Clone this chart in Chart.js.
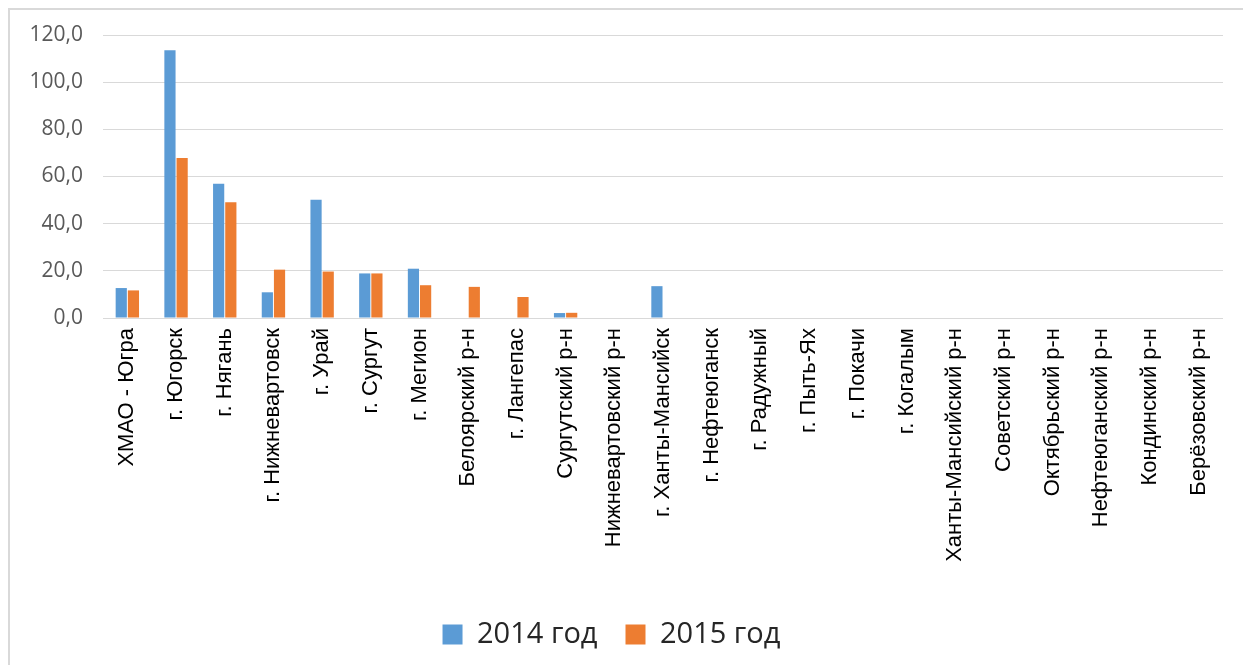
<!DOCTYPE html>
<html>
<head>
<meta charset="utf-8">
<script src="https://cdn.jsdelivr.net/npm/chart.js@4"></script>
<style>
  html, body { margin: 0; padding: 0; background: #fff; overflow: hidden; }
  #frame { position: absolute; left: 8px; top: 8px; width: 1260px; height: 680px; border: 2px solid #d9d9d9; }
  #wrap { position: absolute; left: 0; top: 0; width: 1243px; height: 665px; }
</style>
</head>
<body>
<div id="frame"></div>
<div id="wrap"><canvas id="bar-chart-grouped"></canvas></div>
<script>
var places = ["ХМАО - Югра", "г. Югорск", "г. Нягань", "г. Нижневартовск", "г. Урай", "г. Сургут",
    "г. Мегион", "Белоярский р-н", "г. Лангепас", "Сургутский р-н", "Нижневартовский р-н",
    "г. Ханты-Мансийск", "г. Нефтеюганск", "г. Радужный", "г. Пыть-Ях", "г. Покачи", "г. Когалым",
    "Ханты-Мансийский р-н", "Советский р-н", "Октябрьский р-н", "Нефтеюганский р-н",
    "Кондинский р-н", "Берёзовский р-н"];
var y2014 = [12.7, 113.5, 56.9, 10.9, 50.1, 18.9, 20.9, 0, 0, 2.1, 0, 13.5, 0, 0, 0, 0, 0, 0, 0, 0, 0, 0, 0];
var y2015 = [11.7, 67.8, 49.1, 20.5, 19.7, 18.9, 13.9, 13.2, 8.9, 2.2, 0, 0, 0, 0, 0, 0, 0, 0, 0, 0, 0, 0, 0];
var seriesNames = ["2014 год", "2015 год"];
var color = ["#5b9bd5", "#ed7d31"];

new Chart(document.getElementById("bar-chart-grouped"), {
    type: 'bar',
    data: {
        labels: places,
        datasets: [
            { label: seriesNames[0], backgroundColor: color[0], data: y2014,
              categoryPercentage: 0.5, barPercentage: 0.92 },
            { label: seriesNames[1], backgroundColor: color[1], data: y2015,
              categoryPercentage: 0.5, barPercentage: 0.92 }
        ]
    },
    options: {
        responsive: true,
        maintainAspectRatio: false,
        animation: false,
        layout: { padding: { left: 0, right: 20, top: 35, bottom: 6 } },
        plugins: {
            tooltip: { enabled: false },
            legend: {
                position: 'bottom',
                labels: {
                    font: { family: "Open Sans", size: 29 },
                    color: '#262626',
                    boxWidth: 20, boxHeight: 20, padding: 28
                }
            }
        },
        scales: {
            x: {
                grid: { display: false, drawTicks: false },
                border: { display: false },
                ticks: {
                    color: '#000',
                    font: { family: "Liberation Sans", size: 22 },
                    minRotation: 90, maxRotation: 90, autoSkip: false, padding: 10
                },
                afterFit: function (s) { s.height = 274; }
            },
            y: {
                min: 0, max: 120,
                ticks: {
                    stepSize: 20,
                    color: '#595959',
                    font: { family: "Open Sans", size: 21 },
                    padding: 20,
                    callback: function (v) { return v.toFixed(1).replace('.', ','); }
                },
                grid: { color: '#d9d9d9', drawTicks: false },
                border: { display: false },
                afterFit: function (s) { s.width = 103; }
            }
        }
    }
});
</script>
</body>
</html>
